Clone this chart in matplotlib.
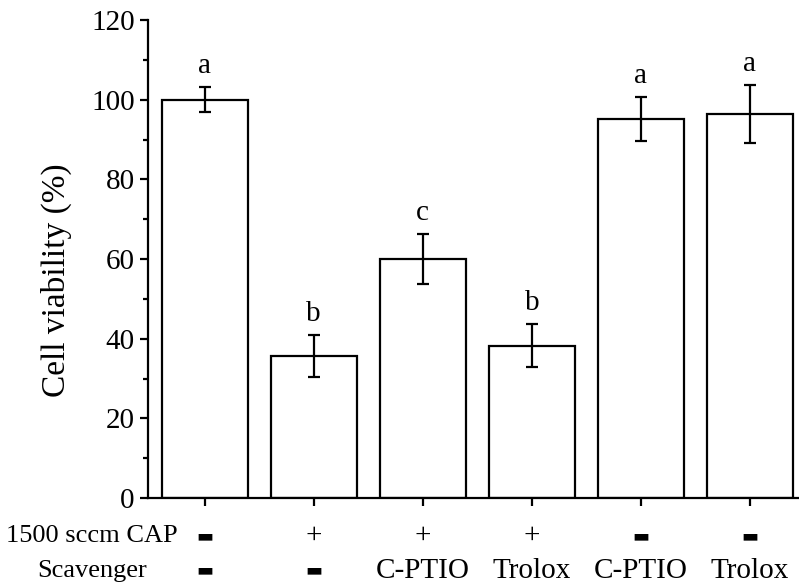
import numpy as np
import matplotlib.pyplot as plt
from matplotlib.ticker import MultipleLocator
import matplotlib.transforms as mtransforms

plt.rcParams['font.family'] = ['Liberation Serif', 'DejaVu Sans']

# data
viability = [100.0, 35.7, 60.0, 38.2, 95.2, 96.4]
errors = [3.2, 5.2, 6.3, 5.4, 5.5, 7.3]
letters = ['a', 'b', 'c', 'b', 'a', 'a']
cap_row = ['-', '+', '+', '+', '-', '-']
scavenger_row = ['-', '-', 'C-PTIO', 'Trolox', 'C-PTIO', 'Trolox']
row_names = ['1500 sccm CAP', 'Scavenger']

x = np.arange(len(viability))

fig = plt.figure(figsize=(7.99, 5.88), dpi=100)
ax = fig.add_axes([0.1852, 0.153, 0.8148, 0.813])

ax.bar(x, viability, width=0.79, color='white', edgecolor='black', lw=1.6)
ax.errorbar(x, viability, yerr=errors, fmt='none', ecolor='black',
            elinewidth=1.6, capsize=4, capthick=1.6)

for xi, v, e, lab in zip(x, viability, errors, letters):
    ax.text(xi, v + e + 3.5, lab, ha='center', va='baseline', fontsize=21)

ax.set_xlim(-0.52, 5.45)
ax.set_ylim(0, 120)
ax.yaxis.set_major_locator(MultipleLocator(20))
ax.yaxis.set_minor_locator(MultipleLocator(10))
ax.set_xticks(x)
ax.set_xticklabels([])

for side in ['top', 'right']:
    ax.spines[side].set_visible(False)
for side in ['left', 'bottom']:
    ax.spines[side].set_linewidth(1.6)

ax.tick_params(axis='both', which='major', direction='out', length=6, width=1.6,
               labelsize=21)
ax.tick_params(axis='y', which='minor', direction='out', length=3.5, width=1.6)

ax.set_ylabel('Cell viability (%)', fontsize=24)
ax.yaxis.set_label_coords(-0.117, 0.456)

# condition rows under the axis
trans = mtransforms.blended_transform_factory(ax.transData, ax.transAxes)
row_y = [-0.08, -0.152]
for row, yy in zip([cap_row, scavenger_row], row_y):
    for xi, s in zip(x, row):
        if s == '-':
            ax.text(xi, yy, '\u25ac', transform=trans, ha='center', va='center',
                    fontsize=13, family='DejaVu Sans')
        else:
            ax.text(xi, yy, s, transform=trans, ha='center', va='center',
                    fontsize=21)

name_trans = mtransforms.blended_transform_factory(fig.transFigure, ax.transAxes)
for name, yy in zip(row_names, row_y):
    ax.text(92 / 799, yy, name, transform=name_trans, ha='center', va='center',
            fontsize=19)

fig.savefig('out.png', dpi=100)
